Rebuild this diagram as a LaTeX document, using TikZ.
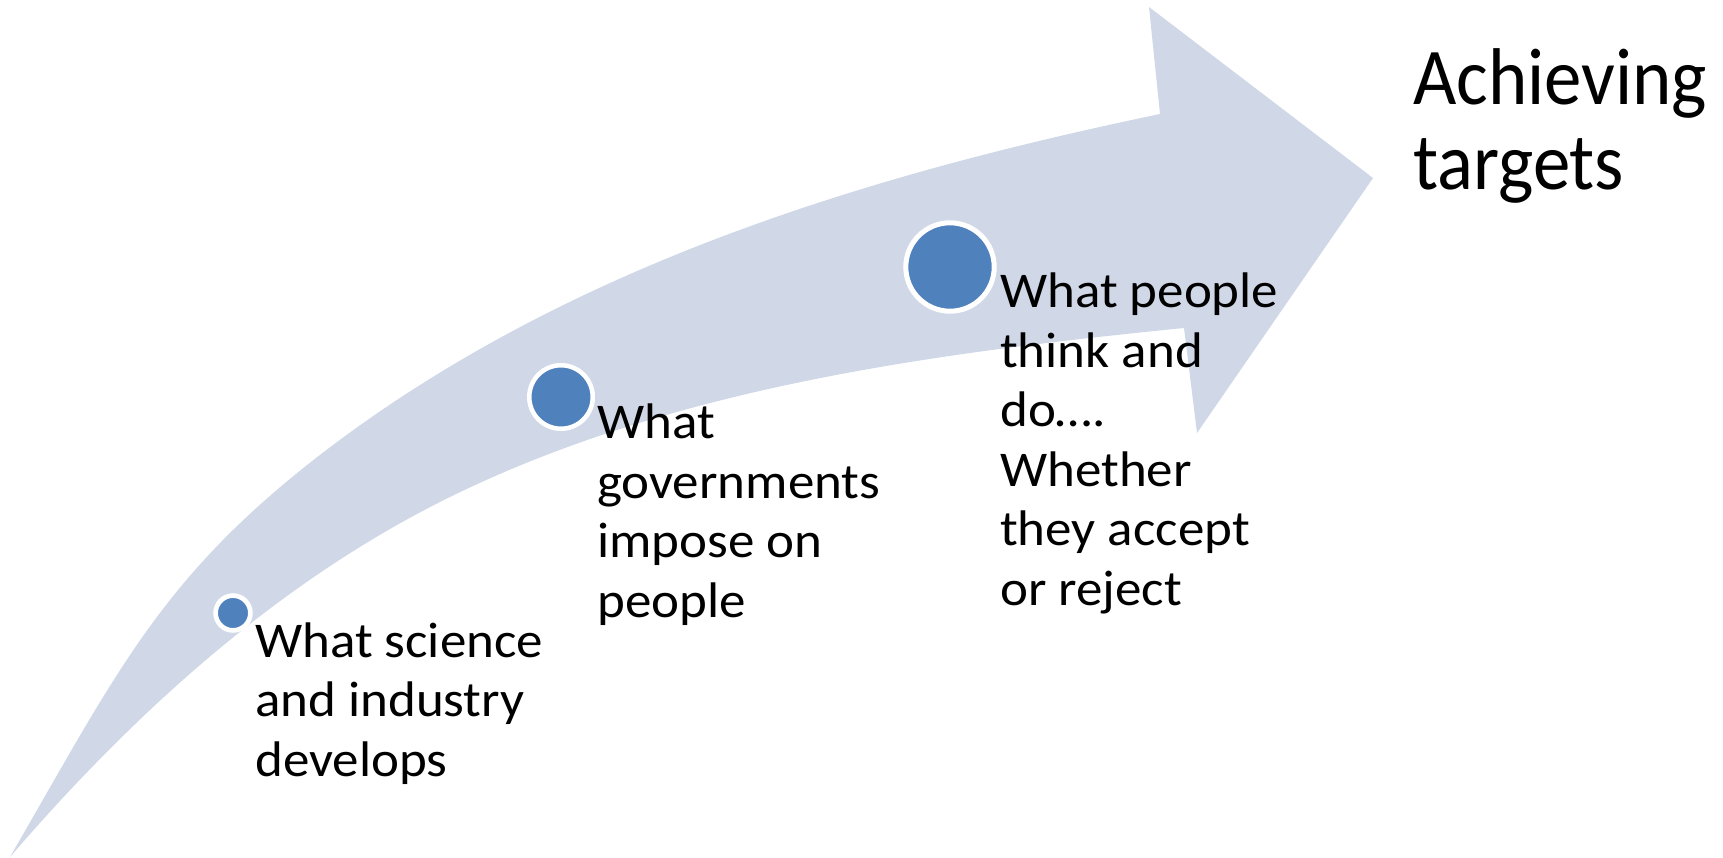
\documentclass[tikz,border=0pt]{standalone}
\usepackage{fontspec}
\setmainfont{Carlito}
\newfontfamily\lblfont{Carlito}[FakeStretch=1.06]
\newfontfamily\bigfont{Carlito}[FakeStretch=0.93]
\definecolor{bandfill}{HTML}{D0D8E8}
\definecolor{dotfill}{HTML}{4F81BD}
\begin{document}
\begin{tikzpicture}[x=1pt,y=-1pt,
  dot/.style={circle, fill=dotfill, draw=white, inner sep=0pt},
  label/.style={anchor=base west, inner sep=0pt, align=left, font=\lblfont\fontsize{50}{59.5}\selectfont},
  big/.style={anchor=base west, inner sep=0pt, align=left, font=\bigfont\fontsize{80.5}{85}\selectfont}]
\useasboundingbox (0,0) rectangle (1723,858);
% curved arrow
\fill[bandfill] (10,857)
  .. controls (120,667) and (163,573) .. (333,445)
  .. controls (573,265) and (867,175) .. (1160,114)
  -- (1149,7) -- (1373,178) -- (1197,433) -- (1184,328)
  .. controls (935,353) and (674,387) .. (450,497)
  .. controls (279,581) and (134,713) .. (10,857)
  -- cycle;
% dots
\node[dot, line width=4.7pt, minimum size=34.8pt] (d1) at (233,613) {};
\node[dot, line width=4.5pt, minimum size=63.5pt] (d2) at (561,397) {};
\node[dot, line width=5pt, minimum size=88.4pt] (d3) at (950,267) {};
% labels (anchored at the baseline of the last line)
\node[label] (t1) at (255,776) {What science\\and industry\\develops};
\node[label] (t2) at (597,617) {What\\governments\\impose on\\people};
\node[label] (t3) at (1000,605) {What people\\think and\\do….\\Whether\\they accept\\or reject};
\node[big] (t4) at (1413,190) {Achieving\\targets};
\end{tikzpicture}
\end{document}
